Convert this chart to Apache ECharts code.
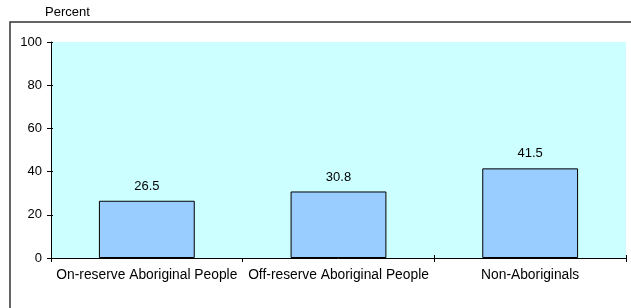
<!DOCTYPE html>
<html><head><meta charset="utf-8">
<script src="https://cdn.jsdelivr.net/npm/echarts@6/dist/echarts.min.js"></script>
<style>html,body{margin:0;padding:0;background:#fff}#c{width:631px;height:308px}</style>
</head><body><div id="c"></div>
<script>
const categories = ["On-reserve Aboriginal People", "Off-reserve Aboriginal People", "Non-Aboriginals"];
const values = [26.5, 30.8, 41.5];
const yTicks = [0, 20, 40, 60, 80, 100];

const chart = echarts.init(document.getElementById('c'), null, {renderer: 'canvas'});
const font = 'Liberation Sans, Arial, sans-serif';
const fs = 13.8;
chart.setOption({
  animation: false,
  graphic: [
    {type: 'rect', shape: {x: 10, y: 22, width: 640, height: 300}, style: {fill: 'none', stroke: '#333', lineWidth: 1.5}, z: 0},
    {type: 'text', left: 45, top: 6, style: {text: 'Percent', font: '13px ' + font, fill: '#000'}}
  ],
  grid: {left: 51, right: 5, top: 42, bottom: 50, show: true, backgroundColor: '#CCFFFF', borderWidth: 0},
  xAxis: [{
    type: 'category', data: categories,
    axisLine: {lineStyle: {color: '#000', width: 1}},
    axisTick: {show: true, length: 4, lineStyle: {color: '#000'}},
    axisLabel: {color: '#000', fontSize: fs, fontFamily: font, margin: 10, interval: 0}
  }, {
    type: 'category', data: categories, position: 'bottom',
    axisLine: {show: false},
    axisTick: {show: true, inside: true, length: 3, lineStyle: {color: '#000'}},
    axisLabel: {show: false}
  }],
  yAxis: [{
    type: 'value', min: 0, max: 100, interval: 20,
    splitLine: {show: false},
    axisLine: {show: true, lineStyle: {color: '#000', width: 1}},
    axisTick: {show: true, length: 4, lineStyle: {color: '#000'}},
    axisLabel: {color: '#000', fontSize: 13, fontFamily: font, margin: 9,
      formatter: v => yTicks.includes(v) ? String(v) : ''}
  }, {
    type: 'value', min: 0, max: 100, interval: 20, position: 'left',
    splitLine: {show: false},
    axisLine: {show: false},
    axisTick: {show: true, inside: true, length: 2, lineStyle: {color: '#000'}},
    axisLabel: {show: false}
  }],
  series: [{
    type: 'bar', data: values, barWidth: '50%',
    itemStyle: {color: '#99CCFF', borderColor: '#000', borderWidth: 1},
    label: {show: true, position: 'top', distance: 8, color: '#000', fontSize: 13, fontFamily: font,
      formatter: p => p.value.toFixed(1)}
  }]
});
</script></body></html>
